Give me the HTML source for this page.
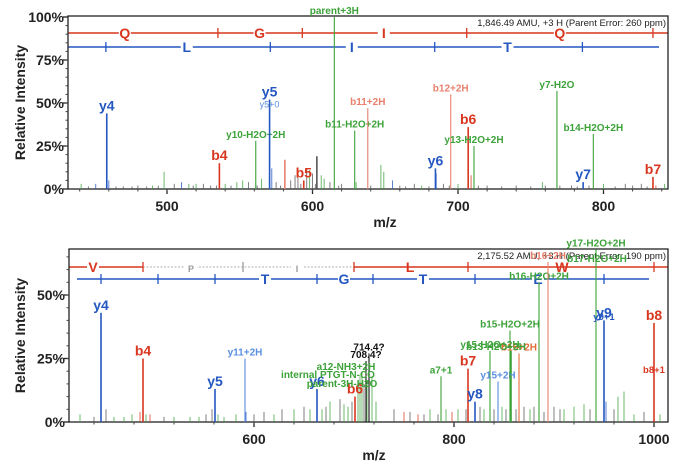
<!DOCTYPE html>
<html><head><meta charset="utf-8"><style>
html,body{margin:0;padding:0;background:#fff;}
svg{display:block;font-family:"Liberation Sans",Arial,sans-serif;}
</style></head><body>
<svg id="fig" width="685" height="473" viewBox="0 0 685 473">
<g id="top"></g>
<g id="bot"></g>
</svg>
<script>
// ---------- TOP SPECTRUM DATA ----------
const topTicksX = [500, 600, 700, 800];
const topTicksY = [0, 25, 50, 75, 100];
const topIonM = [458.6, 536, 561, 570.5, 581, 603, 594, 615, 629, 638, 684.5, 695, 707, 711, 768, 786, 793, 834];
const topIonH = [44, 15, 28, 52, 17, 19, 5, 100, 34, 47, 12, 55, 36, 25, 57, 4, 32, 7];
const topIonC = ['blue','red','green','blue','lred','gray','red','green','green','lred','blue','lred','red','green','green','blue','green','red'];
const topIonL = ['y4','b4','y10-H2O+2H','y5','','','b5','parent+3H','b11-H2O+2H','b11+2H','y6','b12+2H','b6','y13-H2O+2H','y7-H2O','y7','b14-H2O+2H','b7'];
const topNoiseM = [441,451,460,470,480,490,498,505,510,515,520,525,530,540,548,552,556,565,572,575,585,588,590,596,598,600,606,608,612,620,630,647,649,655,660,670,675,685,690,700,709,720,740,758,760,778,790,800,815,826,836,842,446,465,476,486,494,518,534,544,562,578,592,602,618,640,664,680,694,714,730,750,770,782,808,820,830];
const topNoiseH = [3,3,5,1.5,2,2,10,3,4,3,3,3,2,3,4,5,4,6,12,4,5,8,10,12,11,9,8,6,4,3,4,14,10,5,2,3,2,9,3,3,8,2,2,4,2,2,2,3,3,3,2,3,1.5,1.5,1.5,1.5,2,2,2,2,2,2,3,3,2,2,1.5,1.5,2,2,1.5,1.5,2,1.5,1.5,2,1.5];
const topNoiseC = ['green','blue','blue','gray','gray','green','green','gray','blue','green','green','gray','gray','green','green','green','gray','green','blue','gray','gray','gray','gray','gray','green','gray','green','green','gray','gray','green','green','green','blue','gray','gray','green','blue','gray','green','red','gray','gray','green','gray','gray','gray','green','gray','gray','red','green','gray','gray','gray','gray','gray','gray','gray','gray','gray','gray','gray','gray','gray','gray','gray','gray','gray','gray','gray','gray','gray','gray','gray','gray','gray'];
const topSeqRedTicks = [535, 593, 649, 706, 834];
const topSeqRedLetters = ['Q','G','I','Q'];
const topSeqRedLetterM = [471, 563.6, 649, 770];
const topSeqBlueTicks = [458, 571, 627, 684, 785.5];
const topSeqBlueLetters = ['L','I','T'];
const topSeqBlueLetterM = [513.6, 627, 734];

// ---------- BOTTOM SPECTRUM DATA ----------
const botTicksX = [600, 800, 1000];
const botTicksY = [0, 25, 50];
const botIonM = [447, 489, 561, 591, 663, 701, 715, 712, 787, 814, 821, 836, 857, 844, 856, 865, 885, 894, 942, 950, 1000];
const botIonH = [43, 25, 13, 25, 13, 10, 27, 24, 18, 21, 8, 28, 28, 16, 36, 27, 55, 63, 68, 40, 39];
const botIonC = ['blue','red','blue','lblue','blue','red','black','black','green','red','blue','green','green','lblue','green','orange','green','lred','green','blue','red'];
const botIonL = ['y4','b4','y5','y11+2H','y6','b6','714.4?','708.4?','a7+1','b7','y8','y15-H2O+2H','','y15+2H','b15-H2O+2H','b15+2H','b16-H2O+2H','b16+2H','y17-H2O+2H','y9','b8'];
const botNoiseM = [426,440,452,460,470,478,486,492,496,510,520,536,545,552,558,564,570,582,592,600,610,620,628,640,650,656,668,672,676,686,690,694,698,704,706,708,710,713,718,722,740,750,756,764,770,776,784,792,798,804,812,826,830,840,848,852,862,870,876,880,890,900,906,910,920,930,936,952,960,964,970,980,990,1006];
const botNoiseH = [3,2,5,2,2,3,4,3,3,2,2,2,2,3,5,3,2,3,4,3,4,3,5,5,6,5,5,6,8,9,7,6,8,15,18,20,15,16,18,8,5,4,4,3,3,5,3,5,4,5,5,6,5,5,6,5,5,6,5,6,4,6,5,5,6,7,5,8,5,10,12,3,4,3];
const botNoiseC = ['green','gray','gray','green','green','green','red','green','red','gray','green','green','green','gray','gray','green','green','green','blue','gray','gray','green','gray','green','gray','green','green','gray','green','gray','green','green','gray','green','green','green','gray','green','green','green','gray','red','gray','red','gray','green','gray','green','red','green','gray','gray','green','gray','green','gray','gray','gray','green','gray','gray','gray','gray','green','green','green','gray','blue','gray','green','green','green','gray','green'];
const botSeqRedTicks = [489, 700, 814, 1000];
const botSeqGrayTicks = [589];
const botSeqRedLetters = ['V','L','W'];
const botSeqRedLetterM = [439, 756, 908];
const botSeqGrayLetters = ['P','I'];
const botSeqGrayLetterM = [537, 643];
const botSeqBlueTicks = [447, 504, 561, 663, 719, 821, 950];
const botSeqBlueLetters = ['T','G','T','E'];
const botSeqBlueLetterM = [611, 690, 769, 884];

const COL = {blue:'#2457c0', red:'#d8361f', green:'#3da23a', lred:'#e9806c', lblue:'#5a8ee0', gray:'#555', black:'#111', orange:'#e36a35'};
const NS = 'http://www.w3.org/2000/svg';
function mk(parent, tag, attrs, text){
  const e = document.createElementNS(NS, tag);
  for (const k in attrs) e.setAttribute(k, attrs[k]);
  if (text !== undefined) e.textContent = text;
  parent.appendChild(e); return e;
}
// axis functions
const xTop = m => 167 + (m - 500) * 1.455;
const yTop = h => 189 - h * 1.72;
const xBot = m => 454 + (m - 800);
const yBot = h => 422 - h * 2.54;

function drawPanel(g, P){
  const fr = mk(g,'rect',{x:P.l,y:P.t,width:P.r-P.l,height:P.b-P.t,fill:'none',stroke:'#222','stroke-width':1.3});
  
  
  P.yt.forEach(v=>{
    const y=P.y(v);
    const t=mk(g,'line',{x1:P.l-5,x2:P.l,y1:y,y2:y,stroke:'#222','stroke-width':1.3});
    
    
    const lb=mk(g,'text',{x:P.l-4,y:y+5,'text-anchor':'end','font-size':14,'font-weight':'bold',fill:'#222'},v+'%');
    
    
  });
  for(let v=5; v<P.ymax; v+=5){
    const y=P.y(v);
    const t=mk(g,'line',{x1:P.l-2.5,x2:P.l,y1:y,y2:y,stroke:'#444','stroke-width':1});
    
    
  }
  P.xt.forEach(v=>{
    const x=P.x(v);
    const t=mk(g,'line',{x1:x,x2:x,y1:P.b,y2:P.b+5,stroke:'#222','stroke-width':1.3});
    
    
    const lb=mk(g,'text',{x:x,y:P.b+22,'text-anchor':'middle','font-size':14,'font-weight':'bold',fill:'#222'},String(v));
    
    
  });
  for(let v=P.mstart; v<P.mend; v+=P.mstep){
    const x=P.x(v); if(x<P.l||x>P.r) continue;
    const t=mk(g,'line',{x1:x,x2:x,y1:P.b,y2:P.b+2.5,stroke:'#444','stroke-width':1});
    
    
  }
  const xt=mk(g,'text',{x:P.mzx,y:P.b+38,'text-anchor':'middle','font-size':14,'font-weight':'bold',fill:'#222'},'m/z');
  
  
  const yc=(P.t+P.b)/2;
  const yt=mk(g,'text',{x:0,y:0,transform:`translate(25,${yc}) rotate(-90)`,'text-anchor':'middle','font-size':14,'font-weight':'bold',fill:'#222'},'Relative Intensity');
  
  
  const hd=mk(g,'text',{x:P.r-2,y:P.t+10,'text-anchor':'end','font-size':9.5,fill:'#222'},P.header);
  
  
  P.nm.forEach((m,i)=>{
    const x=P.x(m);
    const pk=mk(g,'line',{x1:x,x2:x,y1:P.b,y2:P.y(P.nh[i]),stroke:COL[P.nc[i]],'stroke-width':1,opacity:0.75});
    
    
  });
  P.im.forEach((m,i)=>{
    const x=P.x(m), yt=P.y(P.ih[i]);
    const big=(P.il[i].length<=3);
    const pk=mk(g,'line',{x1:x,x2:x,y1:P.b,y2:yt,stroke:COL[P.ic[i]],'stroke-width':big?1.6:1.1});
    
    
    if(P.il[i]){
      const lb=mk(g,'text',{x:x,y:yt-3,'text-anchor':'middle','font-size':big?14:10,'font-weight':'bold',fill:COL[P.ic[i]]},P.il[i]);
      
      
    }
  });
}
function drawSeq(g, P, y, color, ticks, letters, letterM, x0, x1, dashed){
  const ln=mk(g,'line',{x1:x0,x2:x1,y1:y,y2:y,stroke:color,'stroke-width':dashed?0.8:1.4,'stroke-dasharray':dashed?'2,1.5':''});
  
  
  ticks.forEach(m=>{
    const x=P.x(m);
    const t=mk(g,'line',{x1:x,x2:x,y1:y-5,y2:y+5,stroke:color,'stroke-width':1.3});
    
    
  });
  letters.forEach((L,i)=>{
    const x=P.x(letterM[i]);
    mk(g,'rect',{x:x-6,y:y-6,width:12,height:12,fill:'#fff'});
    const t=mk(g,'text',{x:x,y:y+5,'text-anchor':'middle','font-size':dashed?9:14,'font-weight':'bold',fill:color},L);
    
    
  });
}
const gt=document.getElementById('top');
const PT={l:68,r:668,t:16,b:189,x:xTop,y:yTop,xt:topTicksX,yt:topTicksY,ymax:100,mstart:440,mend:850,mstep:20,mzx:385,
  header:'1,846.49 AMU, +3 H (Parent Error: 260 ppm)',nm:topNoiseM,nh:topNoiseH,nc:topNoiseC,im:topIonM,ih:topIonH,ic:topIonC,il:topIonL};
drawSeq(gt,PT,33,COL.red,topSeqRedTicks,topSeqRedLetters,topSeqRedLetterM,68,668,false);
drawSeq(gt,PT,47,COL.blue,topSeqBlueTicks,topSeqBlueLetters,topSeqBlueLetterM,68,659,false);
drawPanel(gt,PT);
const y50=mk(gt,'text',{x:xTop(570.5),y:yTop(52)+8,'text-anchor':'middle','font-size':9,fill:COL.lblue},'y5+0');



const gb=document.getElementById('bot');
const PB={l:69,r:668,t:249,b:422,x:xBot,y:yBot,xt:botTicksX,yt:botTicksY,ymax:68,mstart:440,mend:1014,mstep:40,mzx:374,
  header:'2,175.52 AMU, +3 H (Parent Error: 190 ppm)',nm:botNoiseM,nh:botNoiseH,nc:botNoiseC,im:botIonM,ih:botIonH,ic:botIonC,il:botIonL};
drawSeq(gb,PB,267,'#999',botSeqGrayTicks,botSeqGrayLetters,botSeqGrayLetterM,xBot(489),xBot(700),true);
drawSeq(gb,PB,267,COL.red,botSeqRedTicks,botSeqRedLetters,botSeqRedLetterM,69,xBot(489),false);
drawSeq(gb,PB,267,COL.red,[],[],[],xBot(700),668,false);
drawSeq(gb,PB,279,COL.blue,botSeqBlueTicks,botSeqBlueLetters,botSeqBlueLetterM,77,649,false);
drawPanel(gb,PB);
const extra=[['a12-NH3+2H',346,370,'green'],['internal PTGT-N-CO',328,378,'green'],['parent-3H-H2O',342,387,'green'],['b13-H2O+2H',496,350,'green'],['b17-H2O+2H',597,262,'green'],['y9+1',604,320,'blue'],['b8+1',654,373,'red']];
extra.forEach(e=>{
  const t=mk(gb,'text',{x:e[1],y:e[2],'text-anchor':'middle','font-size':e[0].length<6?9.5:10,'font-weight':'bold',fill:COL[e[3]]},e[0]);
  
  
});
</script>
</body></html>
